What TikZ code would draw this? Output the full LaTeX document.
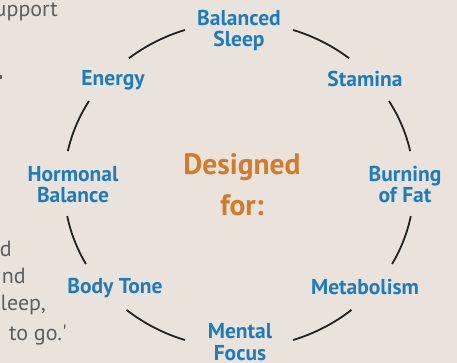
\documentclass[tikz,border=0pt]{standalone}
\usepackage{fontspec}
\setmainfont{PT Sans}
\definecolor{bgcol}{HTML}{E9E3DC}
\definecolor{labblue}{HTML}{1E7BC0}
\definecolor{ctrorange}{HTML}{D27B2C}
\definecolor{graytxt}{HTML}{5E5E5E}
\definecolor{arccol}{HTML}{222222}
\newcommand\ringarc[3]{%
  \coordinate (#1) at ({239+175*cos(#2)},{185-163*sin(#2)});
  \draw[arcline] (#1) arc[start angle=#2,end angle=#3,x radius=175pt,y radius=163pt];}
\begin{document}
\begin{tikzpicture}[x=1pt,y=-1pt,
  lab/.style={font=\fontsize{21.5}{21.5}\selectfont\bfseries, text=labblue, align=center, inner sep=0pt, anchor=base},
  ctr/.style={font=\fontsize{29.5}{40}\selectfont\bfseries, text=ctrorange, align=center, inner sep=0pt, anchor=base},
  gtxt/.style={font=\fontsize{22}{28}\selectfont, text=graytxt, inner sep=0pt, anchor=base east},
  arcline/.style={draw=arccol, line width=1.8pt}]
\useasboundingbox (0,0) rectangle (457,363);
\fill[bgcol] (0,0) rectangle (457,363);
\begin{scope}
  \clip (0,0) rectangle (457,363);
  \node[gtxt] (g1) at (58,17) {upport};
  \fill[graytxt] (0,75) rectangle (2,79);
  \node[gtxt] (g2) at (12,256) {d};
  \node[gtxt] (g3) at (26,283) {nd};
  \node[gtxt] (g4) at (46,310) {leep,};
  \node[gtxt] (g5) at (67,340) {to go.\textquotesingle};
\end{scope}
% labels (anchor base = baseline of last line)
\node[lab] (sleep) at (239,47) {Balanced\\Sleep};
\node[lab] (stamina) at (365,87) {Stamina};
\node[lab] (energy) at (113,86) {Energy};
\node[lab] (fat) at (405,203) {Burning\\of Fat};
\node[lab] (hormonal) at (73,203) {Hormonal\\Balance};
\node[lab] (metab) at (365,294) {Metabolism};
\node[lab] (body) at (115,293) {Body Tone};
\node[lab] (focus) at (240,360) {Mental\\Focus};
\node[ctr] (designed) at (242,215) {Designed\\for:};
% ring arcs
\ringarc{a1}{72}{51}
\ringarc{a2}{31}{12}
\ringarc{a3}{-11}{-29}
\ringarc{a4}{-50}{-72}
\ringarc{a5}{108}{129}
\ringarc{a6}{149}{168}
\ringarc{a7}{191}{209}
\ringarc{a8}{230}{252}
\end{tikzpicture}
\end{document}
